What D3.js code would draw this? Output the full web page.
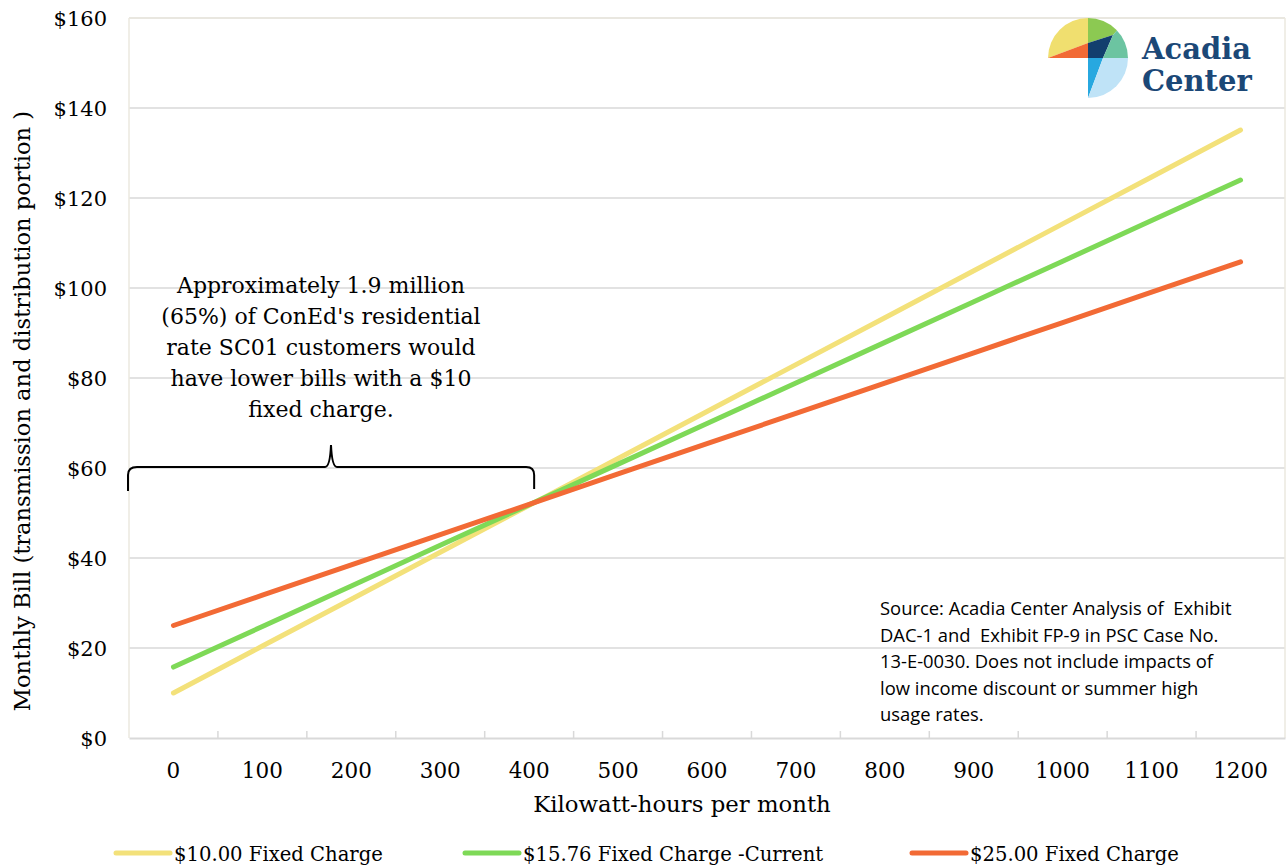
<!DOCTYPE html>
<html>
<head>
<meta charset="utf-8">
<script src="https://cdn.jsdelivr.net/npm/d3@7"></script>
<style>
  html, body { margin: 0; padding: 0; background: #fff; }
  svg { display: block; }
  .serif { font-family: "DejaVu Serif", serif; fill: #000; }
  .sans { font-family: "Open Sans", "Liberation Sans", sans-serif; fill: #000; }
</style>
</head>
<body>
<svg id="chart" width="1286" height="867"></svg>
<script>
// Monthly bill (T&D portion) by monthly usage, for three fixed-charge options
const usage = [0, 100, 200, 300, 400, 500, 600, 700, 800, 900, 1000, 1100, 1200];
const bill10 = [10.00, 20.43, 30.85, 41.28, 51.70, 62.13, 72.55, 82.98, 93.40, 103.83, 114.25, 124.68, 135.10];
const bill1576 = [15.76, 24.78, 33.80, 42.82, 51.84, 60.86, 69.88, 78.90, 87.92, 96.94, 105.96, 114.98, 124.00];
const bill25 = [25.00, 31.73, 38.47, 45.20, 51.93, 58.67, 65.40, 72.13, 78.87, 85.60, 92.33, 99.07, 105.80];
const seriesNames = ["$10.00 Fixed Charge", "$15.76 Fixed Charge -Current", "$25.00 Fixed Charge"];
const seriesColors = ["#f3e17a", "#7ed957", "#f26a35"];
const yTicks = [0, 20, 40, 60, 80, 100, 120, 140, 160];

const svg = d3.select("#chart");
const plot = { left: 129, right: 1285, top: 18, bottom: 738 };

const x = d3.scaleBand().domain(usage).range([plot.left, plot.right]).padding(0);
const y = d3.scaleLinear().domain([0, 160]).range([plot.bottom, plot.top]);

// gridlines
svg.append("g").selectAll("line").data(yTicks.filter(d => d > 0)).join("line")
  .attr("x1", plot.left).attr("x2", plot.right)
  .attr("y1", d => y(d)).attr("y2", d => y(d))
  .attr("stroke", "#d9d9d9").attr("stroke-width", 1.5);

// plot frame
svg.append("line").attr("x1", plot.left).attr("x2", plot.left)
  .attr("y1", plot.top).attr("y2", plot.bottom).attr("stroke", "#ebe8df").attr("stroke-width", 1.5);
svg.append("line").attr("x1", plot.right).attr("x2", plot.right)
  .attr("y1", plot.top).attr("y2", plot.bottom).attr("stroke", "#ebe8df").attr("stroke-width", 1.5);
svg.append("line").attr("x1", plot.left).attr("x2", plot.right)
  .attr("y1", y(160)).attr("y2", y(160)).attr("stroke", "#ebe8df").attr("stroke-width", 1.5);

// y axis labels
svg.append("g").selectAll("text").data(yTicks).join("text")
  .attr("class", "serif")
  .attr("x", 107).attr("y", d => y(d) + 7.5)
  .attr("text-anchor", "end").attr("font-size", 21)
  .text(d => "$" + d);

// x axis
const xAxis = d3.axisBottom(x).tickSize(0).tickPadding(0);
const gx = svg.append("g").attr("transform", `translate(0,${plot.bottom})`).call(xAxis);
gx.select(".domain").attr("stroke", "#d9d9d9").attr("stroke-width", 2);
gx.selectAll(".tick text").attr("font-size", 21.5)
  .attr("font-family", "DejaVu Serif").attr("fill", "#000").attr("dy", 0).attr("y", 40);
// category boundary tick marks
svg.append("g").selectAll("line").data(usage.slice(1)).join("line")
  .attr("x1", d => x(d)).attr("x2", d => x(d))
  .attr("y1", plot.bottom - 7).attr("y2", plot.bottom)
  .attr("stroke", "#d9d9d9").attr("stroke-width", 1.5);

// axis titles
svg.append("text").attr("class", "serif").attr("font-size", 22.8)
  .attr("x", 682).attr("y", 812).attr("text-anchor", "middle")
  .text("Kilowatt-hours per month");
svg.append("text").attr("class", "serif").attr("font-size", 22.6)
  .attr("transform", "translate(30,411) rotate(-90)")
  .attr("text-anchor", "middle")
  .text("Monthly Bill (transmission and distribution portion )");

// series lines
const series = [bill10, bill1576, bill25];
const line = d3.line().x((d, i) => x(usage[i]) + x.bandwidth() / 2).y(d => y(d));
series.forEach((vals, k) => {
  svg.append("path").datum(vals).attr("d", line)
    .attr("fill", "none").attr("stroke", seriesColors[k])
    .attr("stroke-width", 5).attr("stroke-linecap", "round");
});

// annotation
const note = ["Approximately 1.9 million", "(65%) of ConEd's residential", "rate SC01 customers would",
  "have lower bills with a $10", "fixed charge."];
svg.append("text").attr("class", "serif").attr("font-size", 22).attr("text-anchor", "middle")
  .selectAll("tspan").data(note).join("tspan")
  .attr("x", 321).attr("y", (d, i) => 293 + i * 31).text(d => d);

// brace spanning 0–400 kWh
const bx0 = plot.left, bx1 = x(400) + x.bandwidth() / 2 + 5, bmid = 331, by = 467;
svg.append("path")
  .attr("d", `M${bx0 - 1},${by + 24} L${bx0 - 1},${by + 8} Q${bx0 - 1},${by} ${bx0 + 8},${by}
              L${bmid - 6},${by} Q${bmid - 1},${by} ${bmid},${by - 22}
              Q${bmid + 1},${by} ${bmid + 6},${by} L${bx1 - 8},${by} Q${bx1},${by} ${bx1},${by + 8} L${bx1},${by + 22}`)
  .attr("fill", "none").attr("stroke", "#000").attr("stroke-width", 2);

// source note
const src = ["Source: Acadia Center Analysis of  Exhibit", "DAC-1 and  Exhibit FP-9 in PSC Case No.",
  "13-E-0030. Does not include impacts of", "low income discount or summer high", "usage rates."];
svg.append("text").attr("class", "sans").attr("font-size", 18.4).attr("xml:space", "preserve")
  .selectAll("tspan").data(src).join("tspan")
  .attr("x", 880).attr("y", (d, i) => 615 + i * 26.5).text(d => d);

// legend
const legendX = [116, 465, 912];
const lg = svg.append("g").selectAll("g").data(seriesNames).join("g")
  .attr("transform", (d, i) => `translate(${legendX[i]},853)`);
lg.append("line").attr("x1", 0).attr("x2", 54).attr("y1", 0).attr("y2", 0)
  .attr("stroke", (d, i) => seriesColors[i]).attr("stroke-width", 5).attr("stroke-linecap", "round");
lg.append("text").attr("class", "serif").attr("font-size", 19.6).attr("x", 58).attr("y", 8).text(d => d);

// logo mark
const logo = svg.append("g").attr("transform", "translate(1088,58)");
const R = 40;
logo.append("defs").append("clipPath").attr("id", "disc")
  .append("circle").attr("r", R);
const lc = logo.append("g").attr("clip-path", "url(#disc)");
const poly = (pts, fill) => lc.append("path").attr("d", "M" + pts.map(p => p.join(",")).join("L") + "Z").attr("fill", fill);
// upper-left quarter
poly([[-R, 0], [-R, -R], [0, -R], [0, -15]], "#f0df6f");
poly([[-R, 0], [0, -15], [0, 0]], "#f26a35");
// upper-right quarter
poly([[0, -R], [R, -R], [R, -40], [25, -23], [0, -15]], "#8cc952");
poly([[0, -15], [25, -23], [15, 0], [0, 0]], "#123f6e");
poly([[25, -23], [R, -R], [R, 0], [15, 0]], "#6cc4a1");
// lower-right quarter
poly([[0, 0], [15, 0], [0, R]], "#27a8e0");
poly([[15, 0], [R, 0], [R, R], [0, R]], "#bfe3f7");

svg.append("text").attr("font-family", "DejaVu Serif").attr("font-weight", "bold")
  .attr("font-size", 29).attr("fill", "#1b4877")
  .selectAll("tspan").data(["Acadia", "Center"]).join("tspan")
  .attr("x", 1142).attr("y", (d, i) => 59 + i * 32).text(d => d);
</script>
</body>
</html>
